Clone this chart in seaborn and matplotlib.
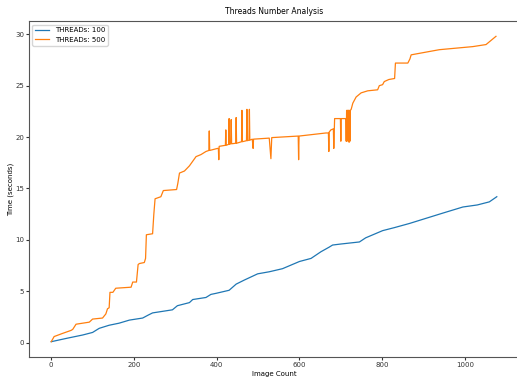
import pandas as pd
import seaborn as sns
import matplotlib.pyplot as plt

# valores (Image Count, segundos)
blue_x = [0, 40, 76, 100, 116, 140, 164, 189, 221, 235, 245, 293, 305, 334, 342, 374, 386, 398,
          430, 447, 467, 499, 527, 559, 600, 628, 652, 672, 680, 700, 745, 760, 801, 830, 866,
          898, 946, 995, 1030, 1059, 1077]
blue_y = [0.1, 0.45, 0.75, 1.0, 1.4, 1.7, 1.9, 2.2, 2.4, 2.7, 2.9, 3.2, 3.6, 3.9, 4.2, 4.4, 4.7, 4.8,
          5.1, 5.7, 6.1, 6.7, 6.9, 7.2, 7.9, 8.2, 8.85, 9.3, 9.5, 9.6, 9.8, 10.2, 10.9, 11.2, 11.6,
          12.0, 12.6, 13.2, 13.4, 13.7, 14.2]

orange_x = [0, 7, 27, 48, 52, 60, 92, 100, 124, 132, 136, 140, 142, 149, 156, 193, 197, 206,
            210, 213, 225, 228, 230, 245, 248, 251, 265, 271, 303, 306, 310, 322, 334, 350, 362,
            374, 381, 382, 383, 402, 404, 405, 406,
            421, 422, 423, 429, 430, 431, 434, 435, 436, 446, 447, 448, 460, 461, 462,
            472, 473, 474, 478, 479, 480, 486, 488, 489, 527, 531, 533, 597, 598, 599,
            664, 670, 671, 672, 676, 682, 683, 685, 699, 700, 701, 712, 713, 714, 715, 716,
            719, 720, 721, 722, 723, 725, 729, 737, 749, 765, 789, 793, 801, 805, 816, 830,
            832, 862, 867, 870, 938, 1019, 1051, 1075]
orange_y = [0.1, 0.6, 0.9, 1.2, 1.3, 1.8, 2.0, 2.3, 2.4, 2.8, 3.3, 3.4, 4.9, 4.9, 5.3, 5.4, 5.9, 5.9,
            7.6, 7.7, 7.8, 8.2, 10.5, 10.6, 12.5, 14.0, 14.2, 14.8, 14.9, 15.5, 16.5, 16.7, 17.2, 18.1, 18.3,
            18.6, 18.7, 20.6, 18.7, 18.9, 18.9, 17.8, 19.1,
            19.2, 20.7, 19.2, 19.3, 21.8, 19.3, 19.35, 21.7, 19.35, 19.4, 21.9, 19.4, 19.55, 22.6, 19.55,
            19.65, 22.7, 19.65, 19.7, 22.7, 19.7, 19.8, 18.9, 19.8, 19.9, 17.9, 19.95, 20.1, 17.8, 20.1,
            20.4, 20.4, 18.6, 20.5, 20.7, 20.8, 18.9, 21.8, 21.8, 19.6, 21.8, 21.8, 19.6, 22.6, 19.6, 22.6,
            22.6, 19.5, 22.6, 19.6, 22.6, 22.7, 23.3, 23.9, 24.3, 24.5, 24.6, 25.0, 25.1, 25.4, 25.6, 25.7,
            27.2, 27.2, 27.6, 28.0, 28.5, 28.8, 29.0, 29.8]

df = pd.concat([
    pd.DataFrame({'x': blue_x, 'y': blue_y, 'serie': 'THREADs: 100'}),
    pd.DataFrame({'x': orange_x, 'y': orange_y, 'serie': 'THREADs: 500'}),
])

plt.rcParams['font.size'] = 5
fig = plt.figure(figsize=(5.17, 3.83), dpi=100)
ax = fig.add_axes([0.056, 0.068, 0.948, 0.877])

sns.lineplot(data=df, x='x', y='y', hue='serie', estimator=None, sort=False,
             palette=['#1f77b4', '#ff7f0e'], linewidth=0.9, ax=ax)

ax.set_title('Threads Number Analysis', fontsize=5.5, pad=5)
ax.set_xlabel('Image Count', fontsize=5, labelpad=2.5)
ax.set_ylabel('Time (seconds)', fontsize=5, labelpad=1)
ax.tick_params(labelsize=5, length=2, pad=1.5, colors='#333333')
for s in ax.spines.values():
    s.set_color('#555555')
ax.legend(loc='upper left', fontsize=5)

plt.savefig('out.png', dpi=100)
